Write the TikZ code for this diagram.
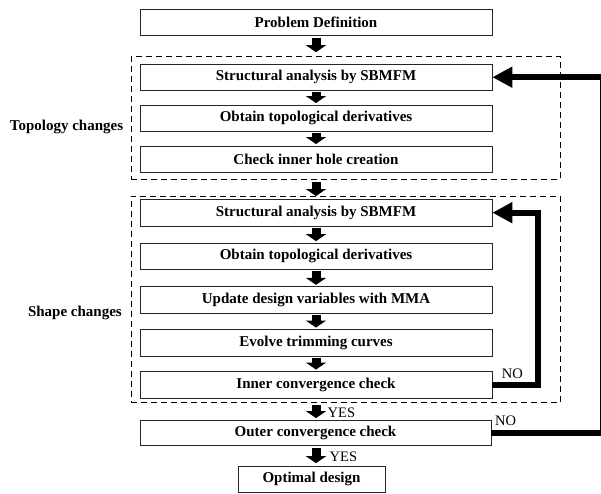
\documentclass[tikz,border=0pt]{standalone}
\usepackage{fontspec}
\setmainfont{Liberation Serif}
\usetikzlibrary{arrows.meta}
\begin{document}
\begin{tikzpicture}[x=1pt,y=-1pt,
  stepbox/.style={draw=black!85, line width=0.8pt, minimum width=352pt, minimum height=26.5pt, inner sep=0pt, font=\fontsize{15}{17}\selectfont\bfseries},
  grp/.style={draw, dash pattern=on 6pt off 4pt, line width=1pt, inner sep=0pt},
  side/.style={font=\fontsize{15}{18}\selectfont\bfseries, anchor=east, inner sep=0pt},
  lbl/.style={font=\fontsize{14.5}{17}\selectfont, inner sep=0pt, anchor=west},
  blk/.style={line width=9pt, -{Triangle[width=20pt,length=7pt]}},
  loopline/.style={line width=6pt, line join=miter, -{Triangle[width=20pt,length=20pt]}}]
\useasboundingbox (0,0) rectangle (601,494);

\node[grp, minimum width=429pt, minimum height=122.6pt] (g1) at (345.5,118) {};
\node[grp, minimum width=429pt, minimum height=206.7pt] (g2) at (345.5,299.35) {};

\node[stepbox] (P) at (316,22.5) {Problem Definition};
\node[stepbox] (S1) at (316,77.2) {Structural analysis by SBMFM};
\node[stepbox] (O1) at (316,118.2) {Obtain topological derivatives};
\node[stepbox] (C1) at (316,159.2) {Check inner hole creation};
\node[stepbox] (S2) at (316,212.7) {Structural analysis by SBMFM};
\node[stepbox] (O2) at (316,256.3) {Obtain topological derivatives};
\node[stepbox] (U2) at (316,300) {Update design variables with MMA};
\node[stepbox] (E2) at (316,342.7) {Evolve trimming curves};
\node[stepbox] (I2) at (316,384.7) {Inner convergence check};
\node[stepbox, minimum width=351pt, minimum height=25pt] (Out) at (315.5,433) {Outer convergence check};
\node[stepbox, minimum width=147pt, minimum height=25.5pt] (Opt) at (311.5,479.3) {Optimal design};

\node[side] (tl) at (123.3,126.7) {Topology changes};
\node[side] (sl) at (122,313.3) {Shape changes};

\draw[blk] ([yshift=-1.5pt]P.south) -- ([yshift=4pt]g1.north -| P.south);
\draw[blk] ([yshift=-1.5pt]S1.south) -- ([yshift=1.5pt]O1.north);
\draw[blk] ([yshift=-1.5pt]O1.south) -- ([yshift=1.5pt]C1.north);
\draw[blk] ([yshift=-2pt]g1.south -| C1.south) -- ([yshift=3pt]S2.north);
\draw[blk] ([yshift=-1.5pt]S2.south) -- ([yshift=1.5pt]O2.north);
\draw[blk] ([yshift=-1.5pt]O2.south) -- ([yshift=1.5pt]U2.north);
\draw[blk] ([yshift=-1.5pt]U2.south) -- ([yshift=1.5pt]E2.north);
\draw[blk] ([yshift=-1.5pt]E2.south) -- ([yshift=1.5pt]I2.north);
\draw[blk] ([yshift=-2pt]I2.south |- g2.south) -- ([yshift=2pt]Out.north -| I2.south);
\draw[blk] ([yshift=-2pt]Out.south -| I2.south) -- ([yshift=3pt]Opt.north -| I2.south);

\draw[loopline] (I2.east) -- ++(45.3,0) |- (S2.east);
\draw[loopline] (Out.east) -- ++(111.5,0) |- (S1.east);

\node[lbl] (no1) at (501.7,373.3) {NO};
\node[lbl] (no2) at (495,420.7) {NO};
\node[lbl] (yes1) at (327.5,412.7) {YES};
\node[lbl] (yes2) at (329.5,456.5) {YES};
\end{tikzpicture}
\end{document}
